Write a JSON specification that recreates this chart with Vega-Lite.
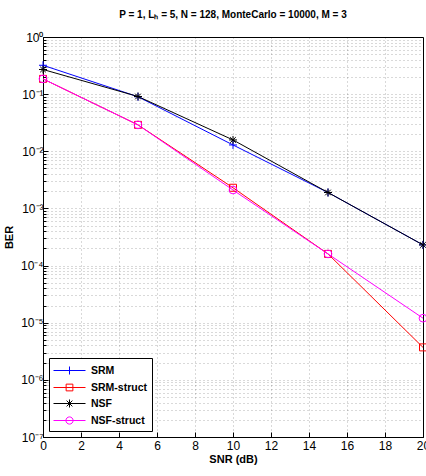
{
  "$schema": "https://vega.github.io/schema/vega-lite/v6.json",
  "width": 380,
  "height": 400,
  "autosize": "none",
  "padding": {"left": 43, "top": 37, "right": 3, "bottom": 39},
  "background": "white",
  "title": {"text": "P = 1, Lₕ = 5, N = 128, MonteCarlo = 10000, M = 3", "font": "Liberation Sans", "fontSize": 10, "fontWeight": "bold", "anchor": "middle", "offset": 11, "color": "black"},
  "config": {
    "view": {"stroke": "black", "strokeWidth": 1},
    "axis": {"domainColor": "black", "tickColor": "black", "labelColor": "black", "titleColor": "black", "labelFont": "Liberation Sans", "labelFontSize": 12, "titleFont": "Liberation Sans", "titleFontWeight": "bold", "titleFontSize": 11, "gridColor": "#000", "gridOpacity": 0.3, "gridDash": [1, 3], "gridWidth": 1},
    "legend": {"title": null, "orient": "bottom-left", "offset": 6, "strokeColor": "black", "fillColor": "white", "padding": 4, "symbolSize": 256, "symbolStrokeWidth": 1, "symbolFillColor": "transparent", "symbolOffset": 8, "labelFont": "Liberation Sans", "labelFontSize": 10.5, "labelFontWeight": "bold", "labelColor": "black", "rowPadding": 2, "labelOffset": 13, "symbolOpacity": 1}
  },
  "data": {"values": [
    {"series": "SRM", "snr": 0, "ber": 0.32},
    {"series": "SRM", "snr": 5, "ber": 0.09},
    {"series": "SRM", "snr": 10, "ber": 0.0129},
    {"series": "SRM", "snr": 15, "ber": 0.0019},
    {"series": "SRM", "snr": 20, "ber": 0.00023},
    {"series": "SRM-struct", "snr": 0, "ber": 0.185},
    {"series": "SRM-struct", "snr": 5, "ber": 0.029},
    {"series": "SRM-struct", "snr": 10, "ber": 0.0023},
    {"series": "SRM-struct", "snr": 15, "ber": 0.00016},
    {"series": "SRM-struct", "snr": 20, "ber": 0.0000037},
    {"series": "NSF", "snr": 0, "ber": 0.27},
    {"series": "NSF", "snr": 5, "ber": 0.091},
    {"series": "NSF", "snr": 10, "ber": 0.0158},
    {"series": "NSF", "snr": 15, "ber": 0.0019},
    {"series": "NSF", "snr": 20, "ber": 0.00023},
    {"series": "NSF-struct", "snr": 0, "ber": 0.185},
    {"series": "NSF-struct", "snr": 5, "ber": 0.029},
    {"series": "NSF-struct", "snr": 10, "ber": 0.0021},
    {"series": "NSF-struct", "snr": 15, "ber": 0.00016},
    {"series": "NSF-struct", "snr": 20, "ber": 0.000012}
  ]},
  "encoding": {
    "x": {"field": "snr", "type": "quantitative", "scale": {"domain": [0, 20], "nice": false},
      "axis": {"title": "SNR (dB)", "values": [0, 2, 4, 6, 8, 10, 12, 14, 16, 18, 20], "labelFlush": false, "labelOverlap": false, "tickSize": -5, "labelPadding": 8, "titlePadding": 2}},
    "y": {"field": "ber", "type": "quantitative", "scale": {"type": "log", "domain": [1e-7, 1], "nice": false},
      "axis": {"title": "BER", "titlePadding": 6,
        "values": [1e-7, 2e-7, 3e-7, 4e-7, 5e-7, 6e-7, 7e-7, 8e-7, 9e-7, 1e-6, 2e-6, 3e-6, 4e-6, 5e-6, 6e-6, 7e-6, 8e-6, 9e-6, 1e-5, 2e-5, 3e-5, 4e-5, 5e-5, 6e-5, 7e-5, 8e-5, 9e-5, 1e-4, 2e-4, 3e-4, 4e-4, 5e-4, 6e-4, 7e-4, 8e-4, 9e-4, 0.001, 0.002, 0.003, 0.004, 0.005, 0.006, 0.007, 0.008, 0.009, 0.01, 0.02, 0.03, 0.04, 0.05, 0.06, 0.07, 0.08, 0.09, 0.1, 0.2, 0.3, 0.4, 0.5, 0.6, 0.7, 0.8, 0.9, 1],
        "labelOverlap": false,
        "labelPadding": 5,
        "tickSize": {"expr": "abs(log(datum.value)/LN10 - round(log(datum.value)/LN10)) < 1e-6 ? -5 : -3"},
        "labelExpr": "abs(log(datum.value)/LN10 - round(log(datum.value)/LN10)) < 1e-6 ? (round(log(datum.value)/LN10) == 0 ? '10⁰' : '10⁻' + ['', '¹', '²', '³', '⁴', '⁵', '⁶', '⁷'][-round(log(datum.value)/LN10)]) : ''"}}
  },
  "layer": [
    {"mark": {"type": "line", "strokeWidth": 1},
     "encoding": {"color": {"field": "series", "type": "nominal",
       "scale": {"domain": ["SRM", "SRM-struct", "NSF", "NSF-struct"], "range": ["#0000ff", "#ff0000", "#000000", "#ff00ff"]}}}},
    {"transform": [{"filter": "datum.series == 'SRM'"}],
     "mark": {"type": "point", "filled": false, "shape": "M-1,0L1,0M0,-1L0,1", "size": 64, "color": "#0000ff", "strokeWidth": 1, "opacity": 1}},
    {"transform": [{"filter": "datum.series == 'SRM-struct'"}],
     "mark": {"type": "point", "filled": false, "shape": "square", "size": 49, "color": "#ff0000", "strokeWidth": 1, "opacity": 1}},
    {"transform": [{"filter": "datum.series == 'NSF'"}],
     "mark": {"type": "point", "filled": false, "shape": "M-1,0L1,0M0,-1L0,1M-0.7,-0.7L0.7,0.7M-0.7,0.7L0.7,-0.7", "size": 64, "color": "#000000", "strokeWidth": 1, "opacity": 1}},
    {"transform": [{"filter": "datum.series == 'NSF-struct'"}],
     "mark": {"type": "point", "filled": false, "shape": "circle", "size": 60, "color": "#ff00ff", "strokeWidth": 1, "opacity": 1}},
    {"transform": [{"filter": "datum.snr < 0"}],
     "mark": {"type": "point", "filled": false, "strokeWidth": 1, "opacity": 1},
     "encoding": {
       "color": {"field": "series", "type": "nominal"},
       "shape": {"field": "series", "type": "nominal",
         "scale": {"domain": ["SRM", "SRM-struct", "NSF", "NSF-struct"], "range": [
           "M-2,0L2,0M0,-0.5L0,0.5",
           "M-2,0L2,0M-0.42,-0.42L0.42,-0.42L0.42,0.42L-0.42,0.42Z",
           "M-2,0L2,0M0,-0.5L0,0.5M-0.36,-0.36L0.36,0.36M-0.36,0.36L0.36,-0.36",
           "M-2,0L2,0M-0.45,0A0.45,0.45,0,1,0,0.45,0A0.45,0.45,0,1,0,-0.45,0"]}}
     }}
  ]
}
